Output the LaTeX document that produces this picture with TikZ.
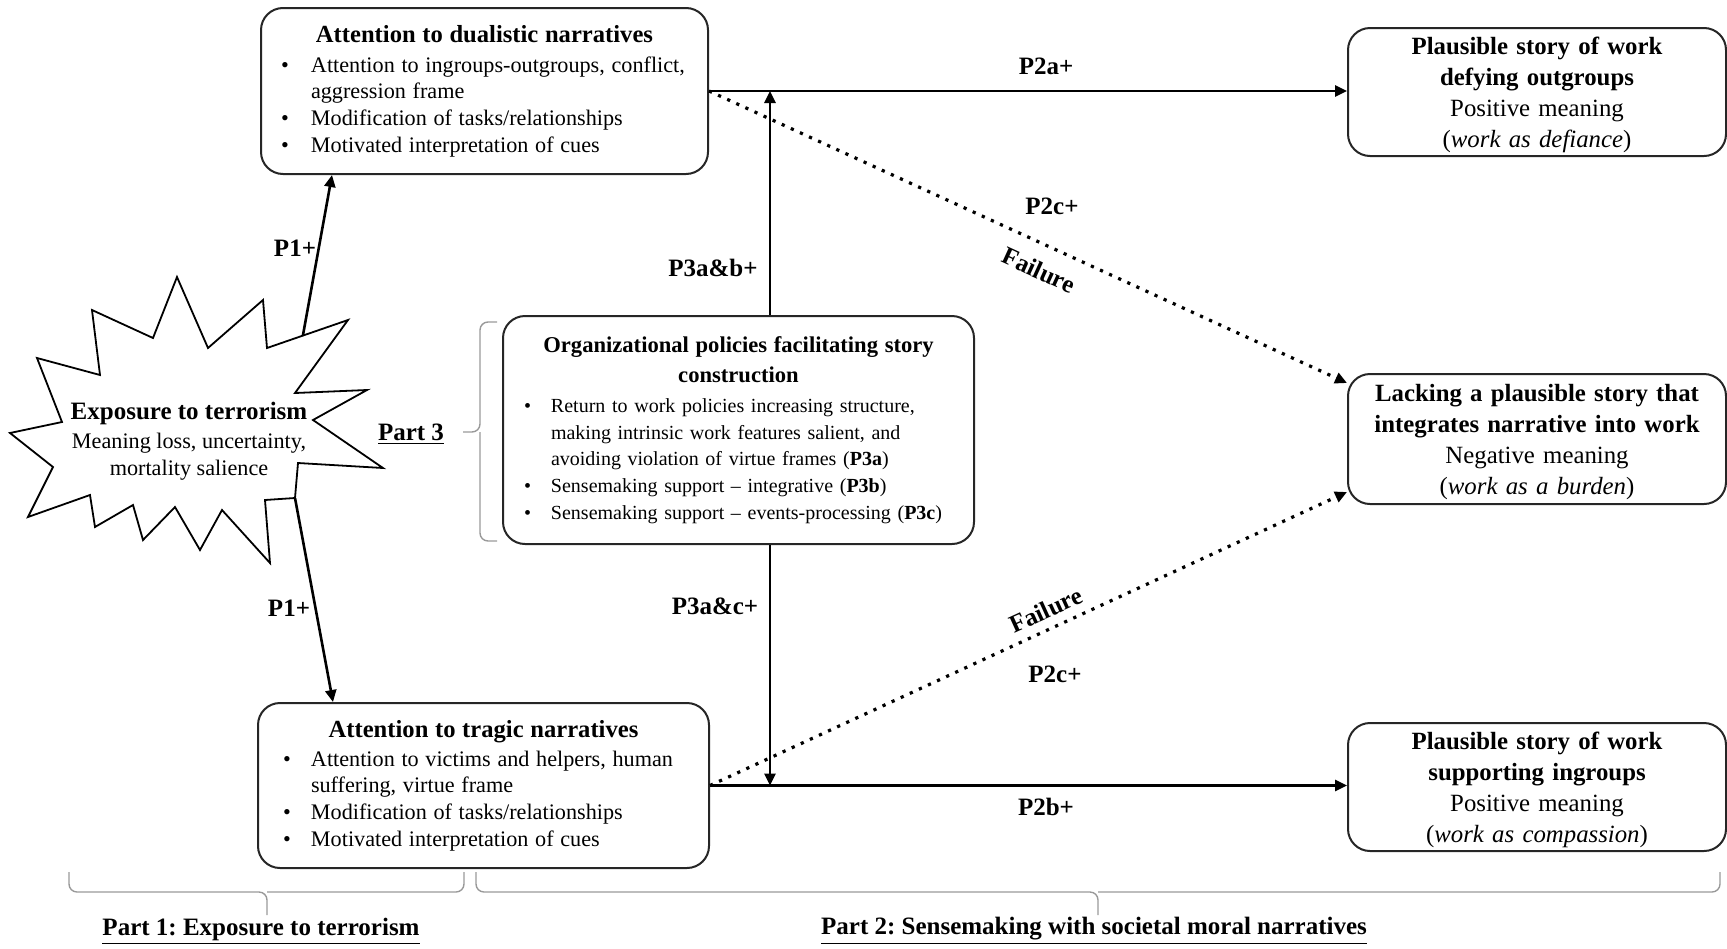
\documentclass[tikz,border=0pt]{standalone}
\usepackage{fontspec}
\setmainfont{Liberation Serif}
\usetikzlibrary{arrows.meta}
\frenchspacing
\newlength\bltind
\newlength\bltpos
\newcommand{\blt}[1]{\par\noindent\hangindent=\bltind\hangafter=1\hbox to\bltind{\hskip\bltpos\textbullet\hfil}#1\par}
\begin{document}
\begin{tikzpicture}[x=0.5pt,y=-0.5pt,
  box/.style={draw=black!85, line width=1pt, rounded corners=11pt, anchor=north west, inner xsep=5pt, inner ysep=2pt, fill=white},
  rbox/.style={box, inner ysep=0.5pt, text width=179pt, minimum height=64pt, align=center, font=\fontsize{12.4}{15.5}\selectfont},
  arr/.style={line width=1.3pt, -{Triangle[length=6pt,width=5.5pt]}},
  dotarr/.style={line width=1.6pt, dash pattern=on 1.6pt off 3.4pt, -{Triangle[length=6pt,width=5.5pt]}},
  lbl/.style={font=\fontsize{12.5}{14}\selectfont\bfseries, inner sep=1pt},
  brc/.style={draw=black!40, line width=0.7pt, rounded corners=4pt},
  part/.style={font=\fontsize{12.5}{15}\selectfont\bfseries, inner sep=1pt},
]
\useasboundingbox (0,0) rectangle (1727,948);

% star
\draw[line width=0.9pt, fill=white] (177,277) -- (208,348) -- (263,300) -- (267,348) -- (348,320) -- (295,393) -- (367,390) -- (313,420) -- (383,468) -- (298,463) -- (295,498) -- (265,500) -- (270,563) -- (222,510) -- (200,550) -- (175,507) -- (143,540) -- (133,505) -- (95,527) -- (90,495) -- (28,517) -- (53,467) -- (10,433) -- (62,422) -- (37,358) -- (100,375) -- (92,310) -- (153,338) -- cycle;
\node[align=center, inner sep=0pt, font=\fontsize{11.1}{13.5}\selectfont] (star) at (189,441)
  {{\fontsize{12.5}{13.5}\selectfont\bfseries Exposure to terrorism}\\[1pt] Meaning loss, uncertainty,\\ mortality salience};
\coordinate (s1) at (303,335);
\coordinate (s2) at (295,498);

% left boxes
\node[box, minimum height=83pt, text width=213.5pt] (dual) at (260,7)
  {\setlength\bltind{20pt}\setlength\bltpos{5pt}%
   \fontsize{12.3}{15}\selectfont\bfseries\centering Attention to dualistic narratives\par
   \vspace{1.7pt}\fontsize{11.1}{13.3}\selectfont\mdseries\raggedright
   \blt{Attention to ingroups-outgroups, conflict,\break aggression frame}
   \blt{Modification of tasks/relationships}
   \blt{Motivated interpretation of cues}};

\node[box, minimum height=82.5pt, text width=215.5pt] (trag) at (257,702)
  {\setlength\bltind{21.5pt}\setlength\bltpos{7.5pt}%
   \fontsize{12.3}{15}\selectfont\bfseries\centering Attention to tragic narratives\par
   \vspace{1.2pt}\fontsize{11.1}{13.3}\selectfont\mdseries\raggedright
   \blt{Attention to victims and helpers, human\break suffering, virtue frame}
   \blt{Modification of tasks/relationships}
   \blt{Motivated interpretation of cues}};

% middle box
\node[box, minimum height=114pt, text width=225.5pt] (org) at (502,315)
  {\setlength\bltind{19pt}\setlength\bltpos{5.5pt}%
   \fontsize{11.3}{15}\selectfont\bfseries\centering Organizational policies facilitating story\\construction\par
   \vspace{1.7pt}\fontsize{10}{13.3}\selectfont\mdseries\raggedright
   \blt{Return to work policies increasing structure,\break making intrinsic work features salient, and\break avoiding violation of virtue frames (\textbf{P3a})}
   \blt{Sensemaking support -- integrative (\textbf{P3b})}
   \blt{Sensemaking support -- events-processing (\textbf{P3c})}};

% right boxes
\node[rbox] (defy) at (1347,27)
  {\rule{0pt}{11.7pt}\textbf{Plausible story of work\\defying outgroups}\\Positive meaning\\(\textit{work as defiance})};
\node[rbox, minimum height=65pt] (lack) at (1347,373)
  {\rule{0pt}{11.7pt}\textbf{Lacking a plausible story that\\integrates narrative into work}\\Negative meaning\\(\textit{work as a burden})};
\node[rbox] (supp) at (1347,722)
  {\rule{0pt}{11.7pt}\textbf{Plausible story of work\\supporting ingroups}\\Positive meaning\\(\textit{work as compassion})};

% connectors
\draw[arr] (s1) -- ([xshift=36pt]dual.south west);
\draw[arr] (s2) -- ([xshift=38pt]trag.north west);
\draw[arr] (dual.east) -- (dual.east -| defy.west);
\draw[arr] (trag.east) -- (trag.east -| supp.west);
\coordinate (vx) at (770,0);
\draw[arr] (org.north -| vx) -- (dual.east -| vx);
\draw[arr] (org.south -| vx) -- (trag.east -| vx);
\draw[dotarr] (dual.east) -- ([yshift=-5pt]lack.north west);
\draw[dotarr] (trag.east) -- ([yshift=6.5pt]lack.south west);

% labels
\node[lbl] (lp1a) at (295,248) {P1+};
\node[lbl] (lp1b) at (289,608) {P1+};
\node[lbl] (lp2a) at (1046,66) {P2a+};
\node[lbl] (lp2c1) at (1052,206) {P2c+};
\node[lbl, rotate=-24.5] (lf1) at (1039,270) {Failure};
\node[lbl] (lp3ab) at (713,268) {P3a\&b+};
\node[lbl] (lp3ac) at (715,606) {P3a\&c+};
\node[lbl, rotate=24.5] (lf2) at (1046,610) {Failure};
\node[lbl] (lp2c2) at (1055,674) {P2c+};
\node[lbl] (lp2b) at (1046,807) {P2b+};

% part 3 brace
\draw[brc] (497,322) -| (480,432) -- (463,432);
\draw[brc] (497,541) -| (480,432);
\node[lbl] (p3) at (411,434) {\underline{Part 3}};

% bottom braces
\draw[brc] (69,872) |- (267,892) -- (267,915);
\draw[brc] (464,872) |- (267,892);
\draw[brc] (476,872) |- (1098,892) -- (1098,915);
\draw[brc] (1720,872) |- (1098,892);
\node[part] (p1) at (261,931) {\underline{Part 1: Exposure to terrorism}};
\node[part] (p2) at (1094,931) {\underline{Part 2: Sensemaking with societal moral narratives}};
\end{tikzpicture}
\end{document}
